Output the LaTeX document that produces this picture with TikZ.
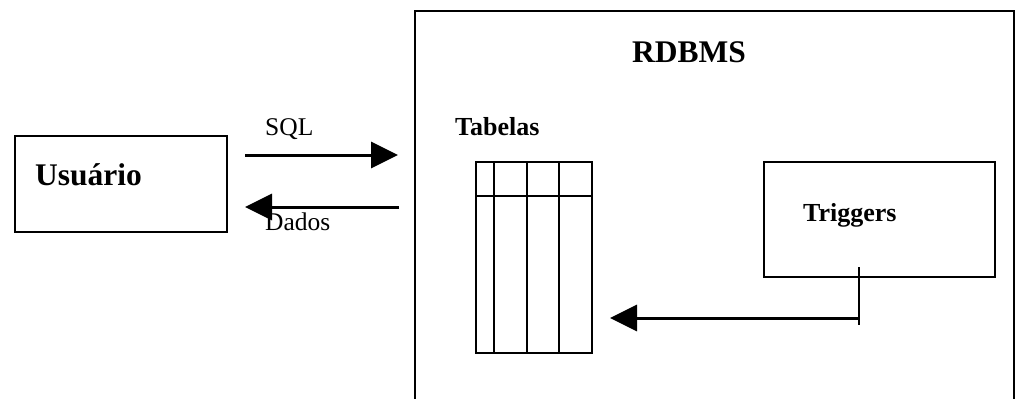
\documentclass[tikz,border=0pt]{standalone}
\usepackage{fontspec}
\setmainfont{Liberation Serif}
\usetikzlibrary{arrows.meta}
\tikzset{
  box/.style={draw, line width=1.6pt, inner sep=0pt},
  lbl/.style={inner sep=0pt, anchor=base west},
  big/.style={font=\fontsize{31.5}{36}\selectfont\bfseries},
  mid/.style={font=\fontsize{26}{30}\selectfont\bfseries},
  reg/.style={font=\fontsize{25.5}{30}\selectfont},
  flow/.style={line width=3pt, -{Triangle[length=27pt,width=26pt]}},
  grid/.style={line width=1.8pt},
}
\begin{document}
\begin{tikzpicture}[x=1pt,y=-1pt]
\useasboundingbox (0,0) rectangle (1015,399);
\clip (0,0) rectangle (1015,399);
% RDBMS frame (open at the bottom)
\node[box, minimum width=599pt, minimum height=420pt, anchor=north west] (rdbms) at (414,10) {};
\node[lbl, big] (rdbmst) at (632,62) {RDBMS};
% Usuario
\node[box, minimum width=212pt, minimum height=96pt, anchor=north west] (usr) at (14,135) {};
\node[lbl, big] (usrt) at (35,185) {Usuário};
% SQL / Dados arrows
\coordinate (sqlA) at (245,155);
\coordinate (sqlB) at (398,155);
\coordinate (datA) at (399,207);
\coordinate (datB) at (245,207);
\draw[flow] (sqlA) -- (sqlB);
\draw[flow] (datA) -- (datB);
\node[lbl, reg] (sqlt) at (265,135) {SQL};
\node[lbl, reg] (datt) at (265,230) {Dados};
% Tabelas
\node[lbl, mid] (tabt) at (455,135) {Tabelas};
\node[draw, grid, inner sep=0pt, minimum width=116pt, minimum height=191pt, anchor=north west] (tab) at (475,161) {};
\draw[grid] (tab.north west |- 0,196) -- (tab.north east |- 0,196);
\draw[grid] (494,0 |- tab.north) -- (494,0 |- tab.south);
\draw[grid] (527,0 |- tab.north) -- (527,0 |- tab.south);
\draw[grid] (559,0 |- tab.north) -- (559,0 |- tab.south);
% Triggers
\node[box, minimum width=231pt, minimum height=115pt, anchor=north west] (trg) at (763,161) {};
\node[lbl, mid] (trgt) at (803,221) {Triggers};
\coordinate (tickA) at (859,267);
\coordinate (tickB) at (859,325);
\coordinate (trgA) at (859,318);
\coordinate (trgB) at (610,318);
\draw[line width=1.5pt] (tickA) -- (tickB);
\draw[flow] (trgA) -- (trgB);
\end{tikzpicture}
\end{document}
